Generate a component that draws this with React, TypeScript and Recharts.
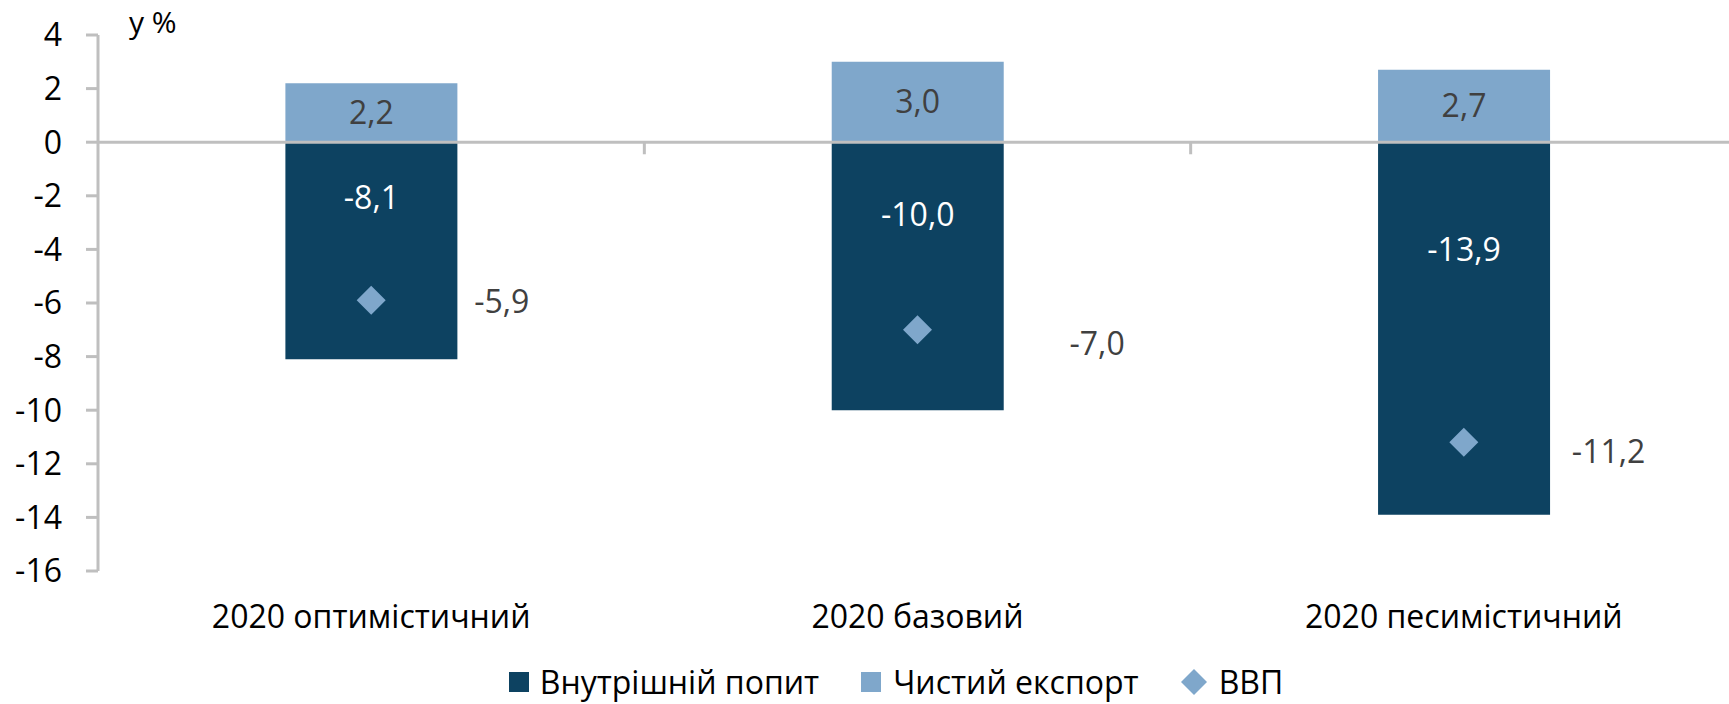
import { Bar, ComposedChart, Label, LabelList, Legend, Line, ReferenceLine, XAxis, YAxis } from "recharts";

const scenarios = ["2020 оптимістичний", "2020 базовий", "2020 песимістичний"];
const domesticDemand = [-8.1, -10.0, -13.9];
const netExports = [2.2, 3.0, 2.7];
const gdpGrowth = [-5.9, -7.0, -11.2];
const yTicks = [4, 2, 0, -2, -4, -6, -8, -10, -12, -14, -16];
const seriesNames = ["Внутрішній попит", "Чистий експорт", "ВВП"];

// manual nudges of the GDP labels, as in the original
const gdpLabelShift = [
  [103, 0],
  [152, 13],
  [108, 8],
];

const dark = "#0D4261";
const light = "#7FA7CB";
const grid = "#BFBFBF";
const font = "'Open Sans', 'Noto Sans', sans-serif";

const rows = scenarios.map((name, i) => ({
  name,
  idx: i + 0.5,
  domestic: domesticDemand[i],
  exports: netExports[i],
  gdp: gdpGrowth[i],
}));

const fmt = (v: unknown) => Number(v).toFixed(1).replace(".", ",");

function Diamond(props: any) {
  const { cx, cy } = props;
  if (cx == null || cy == null) return null;
  const r = 14.5;
  return <path d={`M${cx} ${cy - r}L${cx + r} ${cy}L${cx} ${cy + r}L${cx - r} ${cy}Z`} fill={light} />;
}

function DomesticLabel(props: any) {
  const { x, y, width, height, value } = props;
  const top = Math.min(y, y + height);
  const h = Math.abs(height);
  return (
    <text x={x + width / 2} y={top + h * 0.335 - 18} fill="#fff" fontSize={32} fontFamily={font} textAnchor="middle" dominantBaseline="central">
      {fmt(value)}
    </text>
  );
}

function GdpLabel(props: any) {
  const { x, y, value, index } = props;
  const [dx, dy] = gdpLabelShift[index] ?? [100, 0];
  return (
    <text x={x + dx} y={y + dy} fill="#404040" fontSize={32} fontFamily={font} dominantBaseline="central">
      {fmt(value)}
    </text>
  );
}

function LegendBox() {
  const item = { display: "flex", alignItems: "center" } as const;
  return (
    <div style={{ display: "flex", justifyContent: "center", alignItems: "center", height: 34, paddingLeft: 55, fontFamily: font, fontSize: 32, lineHeight: "34px", color: "#000", gap: 42 }}>
      <div style={item}>
        <span style={{ width: 20, height: 20, background: dark, marginRight: 11 }} />
        {seriesNames[0]}
      </div>
      <div style={item}>
        <span style={{ width: 20, height: 20, background: light, marginRight: 12 }} />
        {seriesNames[1]}
      </div>
      <div style={item}>
        <svg width={26} height={26} style={{ marginRight: 12 }}>
          <path d="M13 0L26 13L13 26L0 13Z" fill={light} />
        </svg>
        {seriesNames[2]}
      </div>
    </div>
  );
}

export default function App() {
  return (
    <div style={{ position: "absolute", left: 0, top: 0, width: 1729, height: 704, overflow: "hidden", background: "#fff" }}>
      <ComposedChart
        width={1729}
        height={704}
        data={rows}
        stackOffset="sign"
        barCategoryGap="34.3%"
        margin={{ top: 35, right: -8, left: 0, bottom: 5 }}
      >
        <XAxis
          dataKey="name"
          axisLine={false}
          tickLine={false}
          tickSize={0}
          tickMargin={34}
          height={94}
          tick={{ fill: "#000", fontSize: 32, fontFamily: font }}
        />
        <XAxis xAxisId="num" type="number" dataKey="idx" domain={[0, 3]} hide />
        <YAxis
          domain={[-16, 4]}
          ticks={yTicks}
          interval={0}
          width={98}
          axisLine={{ stroke: grid, strokeWidth: 3 }}
          tickLine={{ stroke: grid, strokeWidth: 3 }}
          tickSize={12}
          tickMargin={24}
          tick={{ fill: "#000", fontSize: 32, fontFamily: font }}
        >
          <Label
            content={(p: any) => (
              <text x={p.viewBox.x + p.viewBox.width + 31} y={p.viewBox.y - 2} fill="#000" fontSize={30} fontFamily={font}>
                у %
              </text>
            )}
          />
        </YAxis>
        <Legend verticalAlign="bottom" content={() => <LegendBox />} />
        <Bar dataKey="domestic" name={seriesNames[0]} stackId="s" fill={dark} isAnimationActive={false}>
          <LabelList dataKey="domestic" content={<DomesticLabel />} />
        </Bar>
        <Bar dataKey="exports" name={seriesNames[1]} stackId="s" fill={light} isAnimationActive={false}>
          <LabelList dataKey="exports" position="center" formatter={fmt} fill="#404040" fontSize={32} fontFamily={font} />
        </Bar>
        <ReferenceLine y={0} stroke={grid} strokeWidth={3} />
        <ReferenceLine xAxisId="num" segment={[{ x: 1, y: 0 }, { x: 1, y: -0.45 }]} stroke={grid} strokeWidth={3} />
        <ReferenceLine xAxisId="num" segment={[{ x: 2, y: 0 }, { x: 2, y: -0.45 }]} stroke={grid} strokeWidth={3} />
        <Line
          dataKey="gdp"
          name={seriesNames[2]}
          stroke="none"
          dot={(p: any) => <Diamond key={p.index} {...p} />}
          activeDot={false}
          isAnimationActive={false}
          legendType="diamond"
        >
          <LabelList dataKey="gdp" content={<GdpLabel />} />
        </Line>
      </ComposedChart>
    </div>
  );
}
